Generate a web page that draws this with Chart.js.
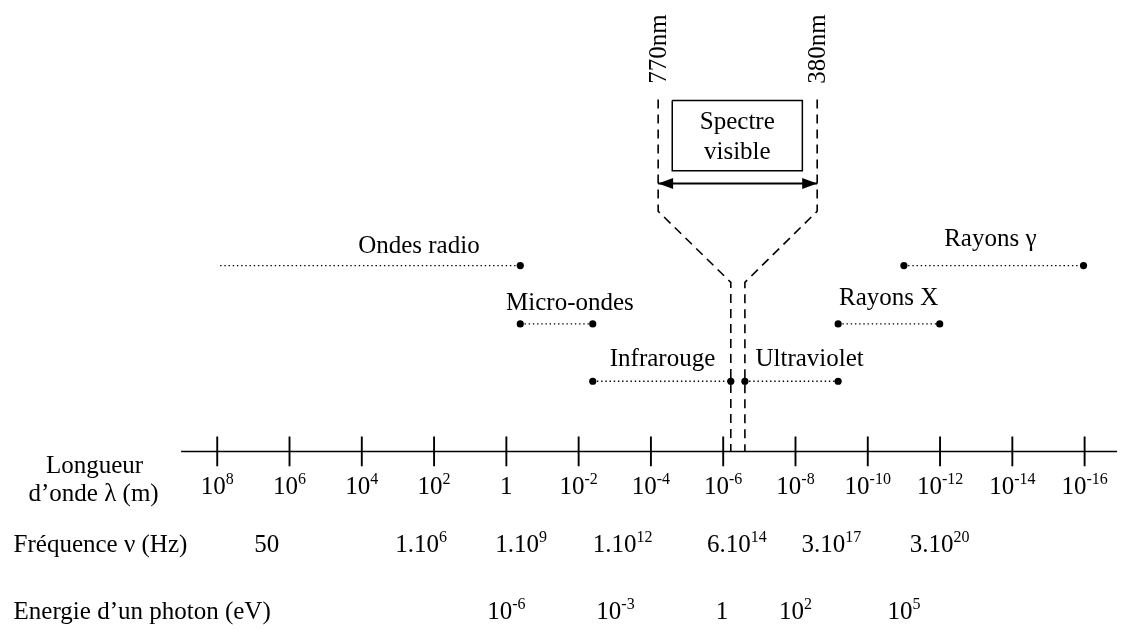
<!DOCTYPE html>
<html lang="fr">
<head>
<meta charset="utf-8">
<title>Spectre électromagnétique</title>
<script src="https://cdn.jsdelivr.net/npm/chart.js@4.4.1/dist/chart.umd.min.js"></script>
<style>
  html,body{margin:0;padding:0;background:#fff;}
  #wrap{width:1121px;height:631px;position:relative;}
</style>
</head>
<body>
<div id="wrap"><canvas id="spectre"></canvas></div>
<script>
/* Spectre électromagnétique — axe des longueurs d'onde (échelle log)
   x = -log10(λ) : 10^8 m à gauche, 10^-16 m à droite */

// graduations : exposant de λ (m)
const WL_EXP=[8,6,4,2,0,-2,-4,-6,-8,-10,-12,-14,-16];
const WL_LABELS=['10^8','10^6','10^4','10^2','1','10^-2','10^-4','10^-6','10^-8','10^-10','10^-12','10^-14','10^-16'];

// fréquences correspondantes (placées à l'exposant de λ équivalent)
const FREQ_LABELS=['50','1.10^6','1.10^9','1.10^12','6.10^14','3.10^17','3.10^20'];
const FREQ_AT=[6.63,2.36,-0.41,-3.22,-6.38,-8.99,-11.99];

// énergie d'un photon (eV)
const ENERGY_LABELS=['10^-6','10^-3','1','10^2','10^5'];
const ENERGY_AT=[0,-3.02,-5.97,-8.0,-11.0];

// domaines : exposant de λ début / fin, rangée (1 = la plus basse)
const BANDS=['Ondes radio','Micro-ondes','Infrarouge','Ultraviolet','Rayons X','Rayons γ'];
const BAND_FROM=[7.92,-0.385,-2.39,-6.6,-9.18,-11.0];
const BAND_TO=[-0.385,-2.39,-6.21,-9.18,-11.99,-15.97];
const BAND_ROW=[3,2,1,1,2,3];
const BAND_DOT_START=[false,true,true,true,true,true];

const VIS_NM=['770nm','380nm'];
const VIS_AT=[-6.21,-6.6];

// ---- mise en page (unités des échelles) ----
const ROW_Y=[0,7.1,12.9,18.8];
const BAND_LABEL={ // centre x (exposant λ), ligne de base y
  'Ondes radio':[2.42,20.1],'Micro-ondes':[-1.76,14.3],'Infrarouge':[-4.32,8.6],
  'Ultraviolet':[-8.39,8.6],'Rayons X':[-10.58,14.8],'Rayons γ':[-13.39,20.8]};
const VIS_TOP_AT=[-4.2,-8.6];      // écartement du crochet
const VIS_Y={low:17.1,bend:24.3,top:35.6,arrow:27.1,boxTop:35.5,boxBot:28.4,label:40.7};
const BOX_AT=[-4.59,-8.19];
const TICK_H=1.5, AXIS_FROM=9, AXIS_TO=-16.9;
const Y_TICKLBL=-4.3, Y_FREQ=-10.2, Y_ENERGY=-17.0;

const FONT='"Liberation Serif","Times New Roman",serif';
const MAIN='25px '+FONT, SUP='16px '+FONT;
const INK='#000';

const X=e=>-e;   // exposant λ -> valeur d'échelle

const line=(pts,extra)=>Object.assign({data:pts,showLine:true,borderColor:INK,borderWidth:1.6,
  pointRadius:0,pointHoverRadius:0,fill:false,tension:0},extra||{});

const datasets=[];
// axe
datasets.push(line([{x:X(AXIS_FROM),y:0},{x:X(AXIS_TO),y:0}],{borderWidth:1.6}));
// graduations
WL_EXP.forEach(e=>datasets.push(line([{x:X(e),y:-TICK_H},{x:X(e),y:TICK_H}],{borderWidth:1.9})));
// domaines
BANDS.forEach((b,i)=>{
  const y=ROW_Y[BAND_ROW[i]];
  datasets.push(line([{x:X(BAND_FROM[i]),y},{x:X(BAND_TO[i]),y}],{
    borderWidth:1.4,borderDash:[1.4,2.8],
    pointRadius:[BAND_DOT_START[i]?3.6:0,3.6],pointBackgroundColor:INK,pointBorderWidth:0}));
});
// crochet du visible (tirets)
[0,1].forEach(k=>{
  datasets.push(line([
    {x:X(VIS_TOP_AT[k]),y:VIS_Y.top},{x:X(VIS_TOP_AT[k]),y:VIS_Y.bend},
    {x:X(VIS_AT[k]),y:VIS_Y.low},{x:X(VIS_AT[k]),y:0}],{borderWidth:1.6,borderDash:[9,6]}));
});
// cadre "Spectre visible"
datasets.push(line([
  {x:X(BOX_AT[0]),y:VIS_Y.boxTop},{x:X(BOX_AT[1]),y:VIS_Y.boxTop},
  {x:X(BOX_AT[1]),y:VIS_Y.boxBot},{x:X(BOX_AT[0]),y:VIS_Y.boxBot},
  {x:X(BOX_AT[0]),y:VIS_Y.boxTop}],{borderWidth:1.5}));
// flèche double
const ARROW_IDX=datasets.length;
datasets.push(line([{x:X(VIS_TOP_AT[0]),y:VIS_Y.arrow},{x:X(VIS_TOP_AT[1]),y:VIS_Y.arrow}],{borderWidth:1.8}));

function drawSup(ctx,str,x,y,align){
  const parts=str.split('^');
  ctx.textAlign='left';ctx.textBaseline='alphabetic';
  ctx.font=MAIN;const wb=ctx.measureText(parts[0]).width;
  ctx.font=SUP;const we=parts[1]?ctx.measureText(parts[1]).width:0;
  const x0=align==='center'?x-(wb+we)/2:x;
  ctx.font=MAIN;ctx.fillText(parts[0],x0,y);
  if(parts[1]){ctx.font=SUP;ctx.fillText(parts[1],x0+wb,y-10);}
}

const annotations={
  id:'annotations',
  afterDatasetsDraw(chart){
    const ctx=chart.ctx, xs=chart.scales.x, ys=chart.scales.y, ca=chart.chartArea;
    const px=e=>xs.getPixelForValue(X(e)), py=v=>ys.getPixelForValue(v);
    ctx.save();
    ctx.fillStyle=INK;

    // pointes de la flèche
    const meta=chart.getDatasetMeta(ARROW_IDX).data;
    const head=(tip,dir)=>{
      ctx.beginPath();
      ctx.moveTo(tip.x,tip.y);
      ctx.lineTo(tip.x+dir*15,tip.y-5.5);
      ctx.lineTo(tip.x+dir*15,tip.y+5.5);
      ctx.closePath();ctx.fill();
    };
    head(meta[0],1);head(meta[1],-1);

    // graduations de l'axe
    WL_LABELS.forEach((l,i)=>drawSup(ctx,l,px(WL_EXP[i]),py(Y_TICKLBL),'center'));
    FREQ_LABELS.forEach((l,i)=>drawSup(ctx,l,px(FREQ_AT[i]),py(Y_FREQ),'center'));
    ENERGY_LABELS.forEach((l,i)=>drawSup(ctx,l,px(ENERGY_AT[i]),py(Y_ENERGY),'center'));

    // noms des domaines
    ctx.font=MAIN;ctx.textAlign='center';ctx.textBaseline='alphabetic';
    BANDS.forEach(b=>{const p=BAND_LABEL[b];ctx.fillText(b,px(p[0]),py(p[1]));});
    ctx.fillText('Spectre',px((BOX_AT[0]+BOX_AT[1])/2),py(32.6));
    ctx.fillText('visible',px((BOX_AT[0]+BOX_AT[1])/2),py(29.6));

    // titres des lignes
    ctx.fillText('Longueur',ca.left+91,py(-2.2));
    ctx.fillText('d’onde λ (m)',ca.left+90,py(-5.0));
    ctx.textAlign='left';
    ctx.fillText('Fréquence ν (Hz)',ca.left+10,py(Y_FREQ));
    ctx.fillText('Energie d’un photon (eV)',ca.left+10,py(Y_ENERGY));

    // bornes du visible (texte vertical)
    VIS_NM.forEach((t,k)=>{
      ctx.save();
      ctx.translate(px(VIS_TOP_AT[k]),py(VIS_Y.label));
      ctx.rotate(-Math.PI/2);
      ctx.textAlign='center';ctx.textBaseline='middle';ctx.font=MAIN;
      ctx.fillText(t,0,1);
      ctx.restore();
    });
    ctx.restore();
  }
};

const whiteBg={id:'whiteBg',beforeDraw(c){const g=c.ctx;g.save();g.fillStyle='#fff';g.fillRect(0,0,c.width,c.height);g.restore();}};

new Chart(document.getElementById('spectre'),{
  type:'scatter',
  data:{datasets},
  options:{
    responsive:true,maintainAspectRatio:false,animation:false,devicePixelRatio:1,
    layout:{padding:0},
    events:[],
    plugins:{legend:{display:false},tooltip:{enabled:false}},
    scales:{
      x:{type:'linear',display:false,min:-13.911,max:16.907},
      y:{type:'linear',display:false,min:-17.8,max:45.3}
    }
  },
  plugins:[whiteBg,annotations]
});
</script>
</body>
</html>
